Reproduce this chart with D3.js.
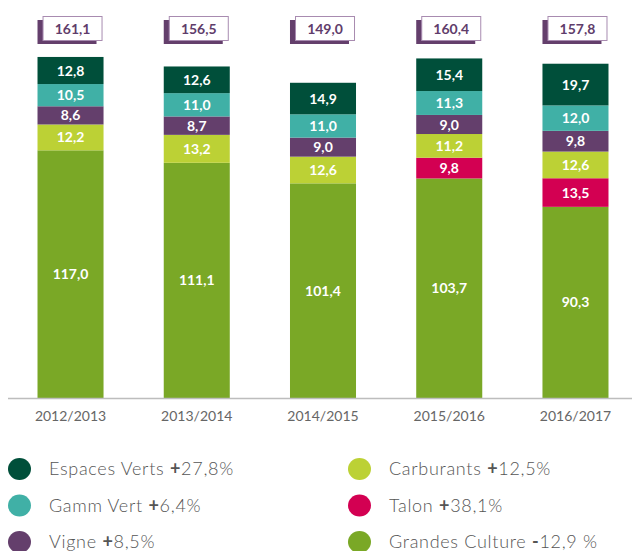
<!DOCTYPE html>
<html><head><meta charset="utf-8">
<script src="https://cdn.jsdelivr.net/npm/d3@7"></script>
<style>body{margin:0;background:#fff}svg{display:block}</style>
</head><body>
<svg id="c" width="632" height="551"></svg>
<script>
const years = ["2012/2013","2013/2014","2014/2015","2015/2016","2016/2017"];
const totals = ["161,1","156,5","149,0","160,4","157,8"];
// stacked from bottom to top
const seriesNames = ["Grandes Culture","Talon","Carburants","Vigne","Gamm Vert","Espaces Verts"];
const grandesCulture = [117.0,111.1,101.4,103.7,90.3];
const talon = [0,0,0,9.8,13.5];
const carburants = [12.2,13.2,12.6,11.2,12.6];
const vigne = [8.6,8.7,9.0,9.0,9.8];
const gammVert = [10.5,11.0,11.0,11.3,12.0];
const espacesVerts = [12.8,12.6,14.9,15.4,19.7];
const colors = ["#7aa826","#d30052","#bcd135","#643f6c","#40b0a6","#004f3a"];
const legendNames = ["Espaces Verts","Gamm Vert","Vigne","Carburants","Talon","Grandes Culture"];
const legendSigns = ["+","+","+","+","+","-"];
const legendPct = ["27,8%","6,4%","8,5%","12,5%","38,1%","12,9 %"];
const legendColors = ["#004f3a","#40b0a6","#643f6c","#bcd135","#d30052","#7aa826"];

const table = years.map((y,i)=>({year:y,
  "Grandes Culture":grandesCulture[i],"Talon":talon[i],"Carburants":carburants[i],
  "Vigne":vigne[i],"Gamm Vert":gammVert[i],"Espaces Verts":espacesVerts[i]}));

const svg = d3.select("#c");
const font = "Lato, 'DejaVu Sans', sans-serif";
const x = d3.scaleBand().domain(years).range([7.4,638.6]).paddingInner(0.477).paddingOuter(0.2385);
const y = d3.scaleLinear().domain([0,170]).range([398, 398-170*2.117]);
const stack = d3.stack().keys(seriesNames)(table);
const fmt = v => v.toFixed(1).replace(".",",");

const g = svg.append("g");
stack.forEach((layer,li)=>{
  const lg = g.append("g").attr("fill",colors[li]);
  lg.selectAll("rect").data(layer.filter(d=>d[1]-d[0]>0)).join("rect")
    .attr("x",d=>x(d.data.year)).attr("width",x.bandwidth())
    .attr("y",d=>y(d[1])).attr("height",d=>y(d[0])-y(d[1]));
});
stack.forEach((layer,li)=>{
  g.append("g").selectAll("text").data(layer.filter(d=>d[1]-d[0]>0)).join("text")
    .attr("x",d=>x(d.data.year)+x.bandwidth()/2)
    .attr("y",d=>(y(d[0])+y(d[1]))/2)
    .attr("dy","0.36em").attr("text-anchor","middle")
    .attr("fill","#fff").attr("font-family",font).attr("font-weight","bold")
    .attr("font-size",14).text(d=>fmt(d[1]-d[0]));
});

// total boxes
const tb = svg.append("g");
years.forEach((yr,i)=>{
  const bx = x(yr), bw = x.bandwidth();
  tb.append("rect").attr("x",bx).attr("y",20).attr("width",59).attr("height",24).attr("fill","#643f6c");
  tb.append("rect").attr("x",bx+bw-60.5).attr("y",16.5).attr("width",59).attr("height",24)
    .attr("fill","#fff").attr("stroke","#a88bb0").attr("stroke-width",1);
  tb.append("text").attr("x",bx+bw-31).attr("y",28.5).attr("dy","0.36em")
    .attr("text-anchor","middle").attr("fill","#5f3d6b").attr("font-family",font)
    .attr("font-weight","bold").attr("font-size",14).text(totals[i]);
});

// axis
svg.append("line").attr("x1",8).attr("x2",632).attr("y1",398.5).attr("y2",398.5)
  .attr("stroke","#bdbdbd").attr("stroke-width",1.5);
const ax = svg.append("g").attr("transform","translate(0,399)")
  .call(d3.axisBottom(x).tickSize(0).tickPadding(12));
ax.select(".domain").remove();
ax.selectAll("text").attr("font-family",font).attr("font-size",14).attr("fill","#666");

// legend
const leg = svg.append("g");
legendNames.forEach((n,i)=>{
  const col = Math.floor(i/3), row = i%3;
  const cx = col===0 ? 19.5 : 359.5, cy = 469 + row*36.5;
  leg.append("ellipse").attr("cx",cx).attr("cy",cy).attr("rx",11.5).attr("ry",11)
    .attr("fill",legendColors[i]);
  const t = leg.append("text").attr("x",cx+29.5).attr("y",cy).attr("dy","0.36em")
    .attr("font-family",font).attr("font-size",18).attr("font-weight",300)
    .attr("letter-spacing","0.7px").attr("fill","#555");
  t.append("tspan").text(n+" ");
  t.append("tspan").attr("font-weight","bold").text(legendSigns[i]);
  t.append("tspan").text(legendPct[i]);
});
</script>
</body></html>
